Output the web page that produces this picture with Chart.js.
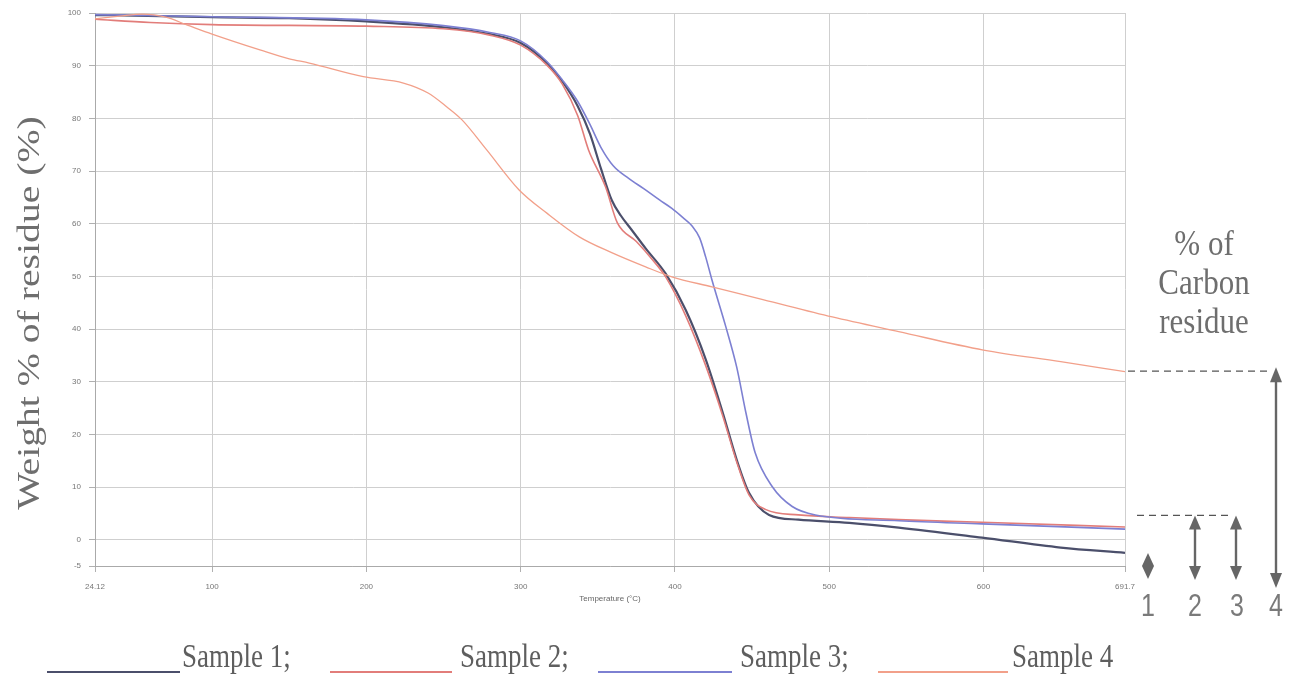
<!DOCTYPE html>
<html><head><meta charset="utf-8">
<script src="https://cdn.jsdelivr.net/npm/chart.js@4.4.0/dist/chart.umd.min.js"></script>
<style>html,body{margin:0;padding:0;background:#fff;}canvas{display:block;}</style>
</head><body>
<canvas id="c" width="1293" height="677"></canvas>
<script>
// ---- data ----
const seriesNames = ['Sample 1', 'Sample 2', 'Sample 3', 'Sample 4'];
const seriesColors = ['#4b4f6b', '#e27d7a', '#7d80d2', '#f2a08a'];

const s1Temp = [24.12, 50, 100, 150, 200, 250, 280, 300, 317, 327, 337, 345, 352, 359, 365, 372, 381, 394, 407, 420, 431, 440, 448, 461, 480, 513, 545, 599, 650, 691.7];
const s1Wt   = [99.6, 99.5, 99.2, 99.0, 98.4, 97.3, 96.0, 94.3, 90.5, 87.0, 82.3, 77.0, 70.5, 64.5, 61.5, 58.8, 55.3, 50.5, 43.6, 34.2, 24.1, 15.2, 8.9, 4.7, 3.8, 3.2, 2.3, 0.4, -1.5, -2.5];

const s2Temp = [24.12, 60, 100, 200, 250, 280, 300, 317, 327, 337, 344, 355, 362.6, 375, 385, 394, 407, 420, 431, 440, 448, 459, 480, 513, 545, 599, 691.7];
const s2Wt   = [98.8, 98.2, 97.8, 97.5, 97.0, 95.8, 93.9, 90.1, 86.5, 80.5, 74.0, 67.0, 60.2, 56.6, 53.3, 49.9, 42.5, 33.0, 23.5, 14.8, 8.5, 5.7, 4.7, 4.2, 3.8, 3.3, 2.4];

const s3Temp = [24.12, 100, 200, 250, 280, 300, 317, 327, 337, 345, 352, 360, 370, 380, 390, 398, 405, 411, 416, 420, 424, 433, 440, 446, 452, 463, 476, 491, 545, 599, 691.7];
const s3Wt   = [99.7, 99.3, 98.7, 97.6, 96.3, 94.7, 90.8, 87.3, 83.2, 78.8, 74.5, 71.0, 68.6, 66.6, 64.5, 62.9, 61.2, 59.6, 57.3, 53.6, 49.3, 40.4, 32.8, 24.1, 16.5, 10.1, 6.3, 4.7, 3.6, 3.0, 2.0];

const s4Temp = [24.12, 40, 55, 70, 84, 100, 131, 150, 163, 198, 224, 240, 252, 262, 278, 299, 317, 338, 359, 381, 398, 424, 457, 502, 545, 600, 650, 691.7];
const s4Wt   = [98.9, 99.4, 99.8, 99.2, 97.7, 96.0, 93.0, 91.3, 90.5, 87.9, 86.7, 84.8, 82.2, 79.7, 74.0, 66.4, 62.0, 57.5, 54.5, 51.8, 49.9, 48.0, 45.6, 42.3, 39.5, 36.0, 33.8, 31.9];

const xTicks = [24.12, 100, 200, 300, 400, 500, 600, 691.7];
const yTicks = [-5, 0, 10, 20, 30, 40, 50, 60, 70, 80, 90, 100];

const yTitle = 'Weight % of residue (%)';
const xTitle = 'Temperature (\u00B0C)';
const carbonTitle = ['% of', 'Carbon', 'residue'];
const carbonLevels = [4.6, 32];          // dashed reference levels (%)
const arrowLabels = ['1', '2', '3', '4'];

// ---- build datasets ----
const temps = [s1Temp, s2Temp, s3Temp, s4Temp];
const weights = [s1Wt, s2Wt, s3Wt, s4Wt];
const widths = [2.2, 1.6, 1.6, 1.3];
const datasets = seriesNames.map((name, i) => ({
  label: name,
  data: temps[i].map((t, k) => ({x: t, y: weights[i][k]})),
  borderColor: seriesColors[i],
  borderWidth: widths[i],
  pointRadius: 0,
  fill: false,
  cubicInterpolationMode: 'monotone'
}));
// draw sample 4 first so the darker curves sit on top
datasets.reverse();

function stretchedText(ctx, text, x, y, font, sy, align, color) {
  ctx.save();
  ctx.translate(x, y);
  ctx.scale(1, sy);
  ctx.font = font;
  ctx.textAlign = align;
  ctx.textBaseline = 'alphabetic';
  ctx.fillStyle = color;
  ctx.fillText(text, 0, 0);
  ctx.restore();
}
function tri(ctx, x, tipY, w, h, dir) {
  ctx.beginPath();
  ctx.moveTo(x, tipY);
  ctx.lineTo(x - w / 2, tipY - dir * h);
  ctx.lineTo(x + w / 2, tipY - dir * h);
  ctx.closePath();
  ctx.fill();
}
function dArrow(ctx, x, yTop, yBot, w, h) {
  ctx.beginPath();
  ctx.moveTo(x, yTop + h - 1);
  ctx.lineTo(x, yBot - h + 1);
  ctx.stroke();
  tri(ctx, x, yTop, w, h, -1);
  tri(ctx, x, yBot, w, h, 1);
}

const annotationPlugin = {
  id: 'annot',
  afterDraw(chart) {
    const ctx = chart.ctx;
    const ys = chart.scales.y;
    // y-axis title
    ctx.save();
    ctx.translate(31, 313);
    ctx.scale(1, 1.28);
    ctx.rotate(-Math.PI / 2);
    ctx.font = '31px "Liberation Serif"';
    ctx.textAlign = 'center';
    ctx.textBaseline = 'middle';
    ctx.fillStyle = '#6e6e6e';
    ctx.fillText(yTitle, 0, 0);
    ctx.restore();

    // legend
    const legendPos = [[47, 180, 182], [330, 452, 460], [598, 732, 740], [878, 1008, 1012]];
    seriesNames.forEach((name, i) => {
      const [x0, x1, tx] = legendPos[i];
      ctx.save();
      ctx.strokeStyle = seriesColors[i];
      ctx.lineWidth = 2.2;
      ctx.beginPath(); ctx.moveTo(x0, 672); ctx.lineTo(x1, 672); ctx.stroke();
      ctx.restore();
      const txt = name + (i < seriesNames.length - 1 ? ';' : '');
      stretchedText(ctx, txt, tx, 667, '27px "Liberation Serif"', 1.22, 'left', '#5e5e5e');
    });

    // carbon residue title
    const cy = [255, 294, 333];
    carbonTitle.forEach((t, i) => stretchedText(ctx, t, 1204, cy[i], '31px "Liberation Serif"', 1.18, 'center', '#6e6e6e'));

    // dashed levels
    const yHi = ys.getPixelForValue(carbonLevels[1]);
    const yLo = ys.getPixelForValue(carbonLevels[0]);
    ctx.save();
    ctx.strokeStyle = '#555';
    ctx.lineWidth = 1.2;
    ctx.setLineDash([7, 5]);
    ctx.beginPath(); ctx.moveTo(1128, yHi); ctx.lineTo(1272, yHi); ctx.stroke();
    ctx.beginPath(); ctx.moveTo(1137, yLo); ctx.lineTo(1232, yLo); ctx.stroke();
    ctx.restore();

    // arrows
    ctx.save();
    ctx.strokeStyle = '#666';
    ctx.fillStyle = '#666';
    ctx.lineWidth = 2.4;
    // 1: diamond
    tri(ctx, 1148, 553, 12, 13, -1);
    tri(ctx, 1148, 579, 12, 13, 1);
    dArrow(ctx, 1195, yLo, 580, 12, 14);
    dArrow(ctx, 1236, yLo, 580, 12, 14);
    dArrow(ctx, 1276, yHi - 4, 588, 12, 15);
    ctx.restore();

    const ax = [1148, 1195, 1237, 1276];
    arrowLabels.forEach((t, i) => stretchedText(ctx, t, ax[i], 616, '25px "Liberation Sans"', 1.25, 'center', '#7a7a7a'));
  }
};

new Chart(document.getElementById('c'), {
  type: 'line',
  data: {datasets},
  plugins: [annotationPlugin],
  options: {
    responsive: false,
    animation: false,
    layout: {padding: {left: 0, right: 168, top: 13, bottom: 71}},
    plugins: {legend: {display: false}, tooltip: {enabled: false}},
    scales: {
      x: {
        type: 'linear', min: 24.12, max: 691.7,
        afterBuildTicks: s => { s.ticks = xTicks.map(v => ({value: v})); },
        afterFit: s => { s.height = 40; },
        ticks: {callback: v => String(v), font: {family: 'Liberation Sans', size: 8}, color: '#777', padding: 10, maxRotation: 0, autoSkip: false},
        grid: {color: '#cfcfcf', tickLength: 6, tickColor: '#b0b0b0'},
        border: {color: '#aaa'},
        title: {display: true, text: xTitle, font: {family: 'Liberation Sans', size: 8}, color: '#666', padding: {top: 2, bottom: 2}}
      },
      y: {
        min: -5, max: 100,
        afterBuildTicks: s => { s.ticks = yTicks.map(v => ({value: v})); },
        afterFit: s => { s.width = 95; },
        ticks: {font: {family: 'Liberation Sans', size: 8}, color: '#777', padding: 8, autoSkip: false},
        grid: {color: '#cfcfcf', tickLength: 6, tickColor: '#b0b0b0'},
        border: {color: '#aaa'}
      }
    }
  }
});
</script>
</body></html>
